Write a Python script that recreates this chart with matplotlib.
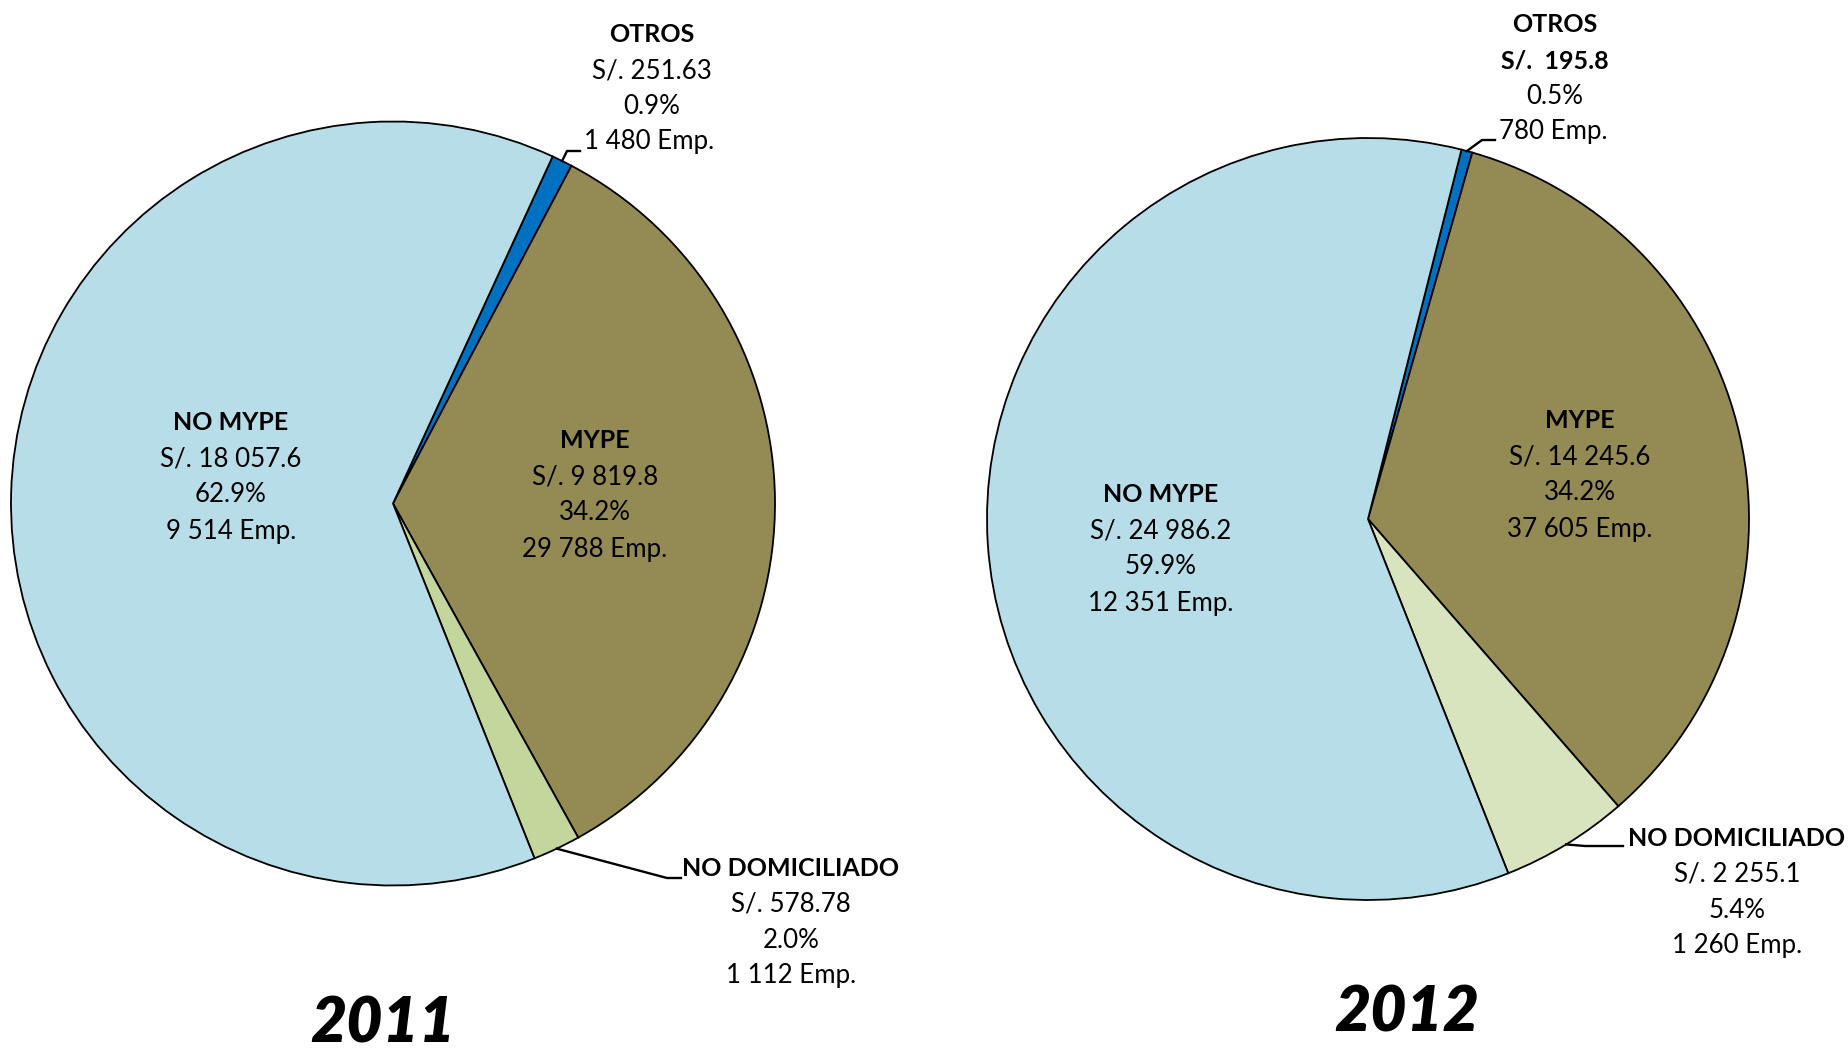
import matplotlib
matplotlib.use("Agg")
import numpy as np
import matplotlib.pyplot as plt

plt.rcParams['font.family'] = ['Lato', 'DejaVu Sans']

# datos (orden: OTROS, MYPE, NO DOMICILIADO, NO MYPE)
categorias = ["OTROS", "MYPE", "NO DOMICILIADO", "NO MYPE"]
montos_2011 = [251.63, 9819.8, 578.78, 18057.6]
montos_2012 = [195.8, 14245.6, 2255.1, 24986.2]
montos_txt_2011 = ["S/. 251.63", "S/. 9 819.8", "S/. 578.78", "S/. 18 057.6"]
montos_txt_2012 = ["S/.  195.8", "S/. 14 245.6", "S/. 2 255.1", "S/. 24 986.2"]
pct_2011 = ["0.9%", "34.2%", "2.0%", "62.9%"]
pct_2012 = ["0.5%", "34.2%", "5.4%", "59.9%"]
emp_2011 = ["1 480 Emp.", "29 788 Emp.", "1 112 Emp.", "9 514 Emp."]
emp_2012 = ["780 Emp.", "37 605 Emp.", "1 260 Emp.", "12 351 Emp."]
colores_2011 = ["#0070C0", "#948A54", "#C3D69B", "#B7DEE8"]
colores_2012 = ["#0070C0", "#948A54", "#D7E4BD", "#B7DEE8"]

W, H = 1849, 1049
fig = plt.figure(figsize=(W / 100, H / 100), dpi=100)
fig.patch.set_facecolor("white")

over = fig.add_axes([0, 0, 1, 1], zorder=5)
over.set_xlim(0, W)
over.set_ylim(H, 0)
over.axis("off")
over.patch.set_alpha(0)

FS = 18.6
FSB = 18
PITCH = 36


def bloque(x, y0, lineas, negritas):
    for k, (t, b) in enumerate(zip(lineas, negritas)):
        over.text(x, y0 + k * PITCH, t, ha="center", va="center",
                  fontsize=FSB if b else FS,
                  fontweight="bold" if b else "normal", color="black")


def torta(cx, cy, r, vals, cols, start):
    m = 1.02
    ax = fig.add_axes([(cx - r * m) / W, (H - cy - r * m) / H, 2 * r * m / W, 2 * r * m / H])
    wedges, _ = ax.pie(vals, colors=cols, startangle=start, counterclock=False, radius=1,
                       wedgeprops=dict(edgecolor="black", linewidth=1.3))
    ax.set_xlim(-m, m)
    ax.set_ylim(-m, m)
    ax.axis("off")
    return ax, wedges


def borde(ax, w):
    th = np.deg2rad((w.theta1 + w.theta2) / 2)
    p = ax.transData.transform((np.cos(th), np.sin(th)))
    return over.transData.inverted().transform(p)


def guia(ax, w, codo, fin):
    p = borde(ax, w)
    over.plot([p[0], codo[0], fin[0]], [p[1], codo[1], fin[1]], color="black", lw=1.7)


# 2011
ax1, w1 = torta(393, 503.5, 382, montos_2011, colores_2011, 65.3)
guia(ax1, w1[0], (567, 151), (580, 151))
guia(ax1, w1[2], (667, 878), (681, 878))
bloque(652, 35, [categorias[0], montos_txt_2011[0], pct_2011[0], ""], [True, False, False, False])
over.text(584, 142, emp_2011[0], ha="left", va="center", fontsize=FS)
bloque(595, 441, [categorias[1], montos_txt_2011[1], pct_2011[1], emp_2011[1]], [True, False, False, False])
bloque(791, 868, [categorias[2], montos_txt_2011[2], pct_2011[2], emp_2011[2]], [True, False, False, False])
bloque(231, 423, [categorias[3], montos_txt_2011[3], pct_2011[3], emp_2011[3]], [True, False, False, False])

# 2012
ax2, w2 = torta(1368, 519, 381, montos_2012, colores_2012, 75.8)
guia(ax2, w2[0], (1482, 140), (1495, 140))
guia(ax2, w2[2], (1585, 846), (1623, 846))
bloque(1555, 25, [categorias[0], montos_txt_2012[0], pct_2012[0], ""], [True, True, False, False])
over.text(1499, 132, emp_2012[0], ha="left", va="center", fontsize=FS)
bloque(1580, 421, [categorias[1], montos_txt_2012[1], pct_2012[1], emp_2012[1]], [True, False, False, False])
bloque(1737, 838, [categorias[2], montos_txt_2012[2], pct_2012[2], emp_2012[2]], [True, False, False, False])
bloque(1161, 495, [categorias[3], montos_txt_2012[3], pct_2012[3], emp_2012[3]], [True, False, False, False])

over.text(383, 1024, "2011", ha="center", va="center", fontsize=45, fontweight="heavy", fontstyle="italic")
over.text(1407, 1013, "2012", ha="center", va="center", fontsize=45, fontweight="heavy", fontstyle="italic")

fig.savefig("out.png", dpi=100)
